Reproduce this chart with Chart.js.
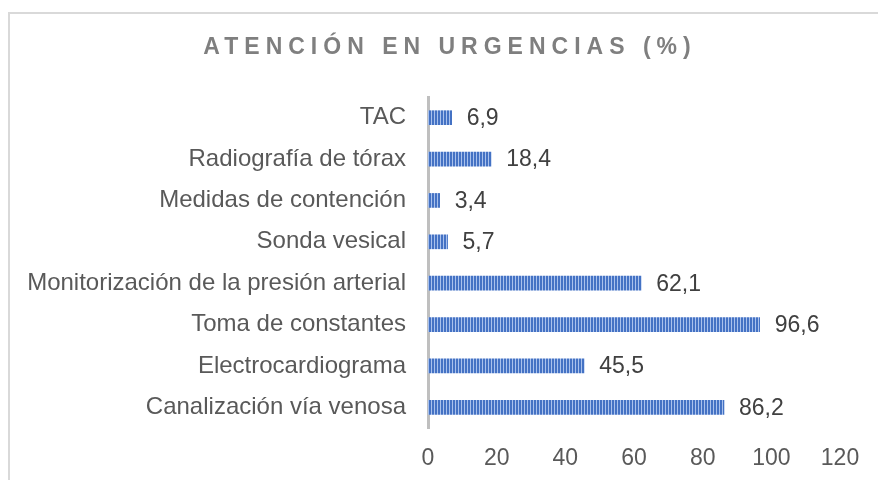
<!DOCTYPE html>
<html>
<head>
<meta charset="utf-8">
<script src="https://cdn.jsdelivr.net/npm/chart.js@4.4.1/dist/chart.umd.min.js"></script>
<style>
  html, body { margin: 0; padding: 0; background: #fff; }
  #wrap { width: 878px; height: 480px; position: relative; }
</style>
</head>
<body>
<div id="wrap"><canvas id="urgChart" width="878" height="480"></canvas></div>
<script>
// Datos (de arriba a abajo)
const categorias = [
    'TAC',
    'Radiografía de tórax',
    'Medidas de contención',
    'Sonda vesical',
    'Monitorización de la presión arterial',
    'Toma de constantes',
    'Electrocardiograma',
    'Canalización vía venosa'
];
const porcentajes = [6.9, 18.4, 3.4, 5.7, 62.1, 96.6, 45.5, 86.2];
const ticksX = [0, 20, 40, 60, 80, 100, 120];
const titulo = 'ATENCIÓN EN URGENCIAS (%)';

const fuente = '"Liberation Sans", Arial, sans-serif';

// Patrón de rayas verticales para las barras
function crearPatron() {
    const c = document.createElement('canvas');
    c.width = 3;
    c.height = 4;
    const g = c.getContext('2d');
    g.fillStyle = '#4472c4';
    g.fillRect(0, 0, 2, 4);
    g.fillStyle = '#a9c1ec';
    g.fillRect(2, 0, 1, 4);
    return g.createPattern(c, 'repeat');
}

// Marco, título con espaciado y etiquetas de valores
const extras = {
    id: 'extras',
    beforeDraw(chart) {
        const ctx = chart.ctx;
        ctx.save();
        ctx.strokeStyle = '#d9d9d9';
        ctx.lineWidth = 2;
        ctx.strokeRect(9, 13, 900, 500);
        ctx.restore();
    },
    afterDatasetsDraw(chart) {
        const ctx = chart.ctx;
        ctx.save();
        ctx.font = 'bold 23px ' + fuente;
        ctx.fillStyle = '#7f7f7f';
        ctx.textAlign = 'center';
        ctx.textBaseline = 'middle';
        if ('letterSpacing' in ctx) ctx.letterSpacing = '6px';
        ctx.fillText(titulo, 450, 48);
        if ('letterSpacing' in ctx) ctx.letterSpacing = '0px';

        ctx.font = '23px ' + fuente;
        ctx.fillStyle = '#404040';
        ctx.textAlign = 'left';
        const meta = chart.getDatasetMeta(0);
        meta.data.forEach((bar, i) => {
            const txt = porcentajes[i].toFixed(1).replace('.', ',');
            ctx.fillText(txt, bar.x + 15, bar.y + 1);
        });
        ctx.restore();
    }
};

const ctx = document.getElementById('urgChart');
new Chart(ctx, {
    type: 'bar',
    data: {
        labels: categorias,
        datasets: [{
            data: porcentajes,
            backgroundColor: crearPatron(),
            borderWidth: 0,
            barThickness: 14
        }]
    },
    options: {
        indexAxis: 'y',
        responsive: false,
        animation: false,
        layout: {
            padding: { top: 97, left: 16, right: 38, bottom: 0 }
        },
        plugins: {
            legend: { display: false },
            tooltip: { enabled: false }
        },
        scales: {
            x: {
                min: 0,
                max: 120,
                afterBuildTicks(axis) {
                    axis.ticks = ticksX.map(v => ({ value: v }));
                },
                afterFit(axis) {
                    axis.height = 52;
                },
                grid: { display: false, drawTicks: false },
                border: { display: false },
                ticks: {
                    color: '#595959',
                    padding: 17,
                    maxRotation: 0,
                    font: { family: fuente, size: 23 }
                }
            },
            y: {
                grid: { display: false, drawTicks: false },
                border: { display: true, color: '#bfbfbf', width: 3 },
                ticks: {
                    color: '#595959',
                    padding: 22,
                    font: { family: fuente, size: 24 }
                }
            }
        }
    },
    plugins: [extras]
});
</script>
</body>
</html>
